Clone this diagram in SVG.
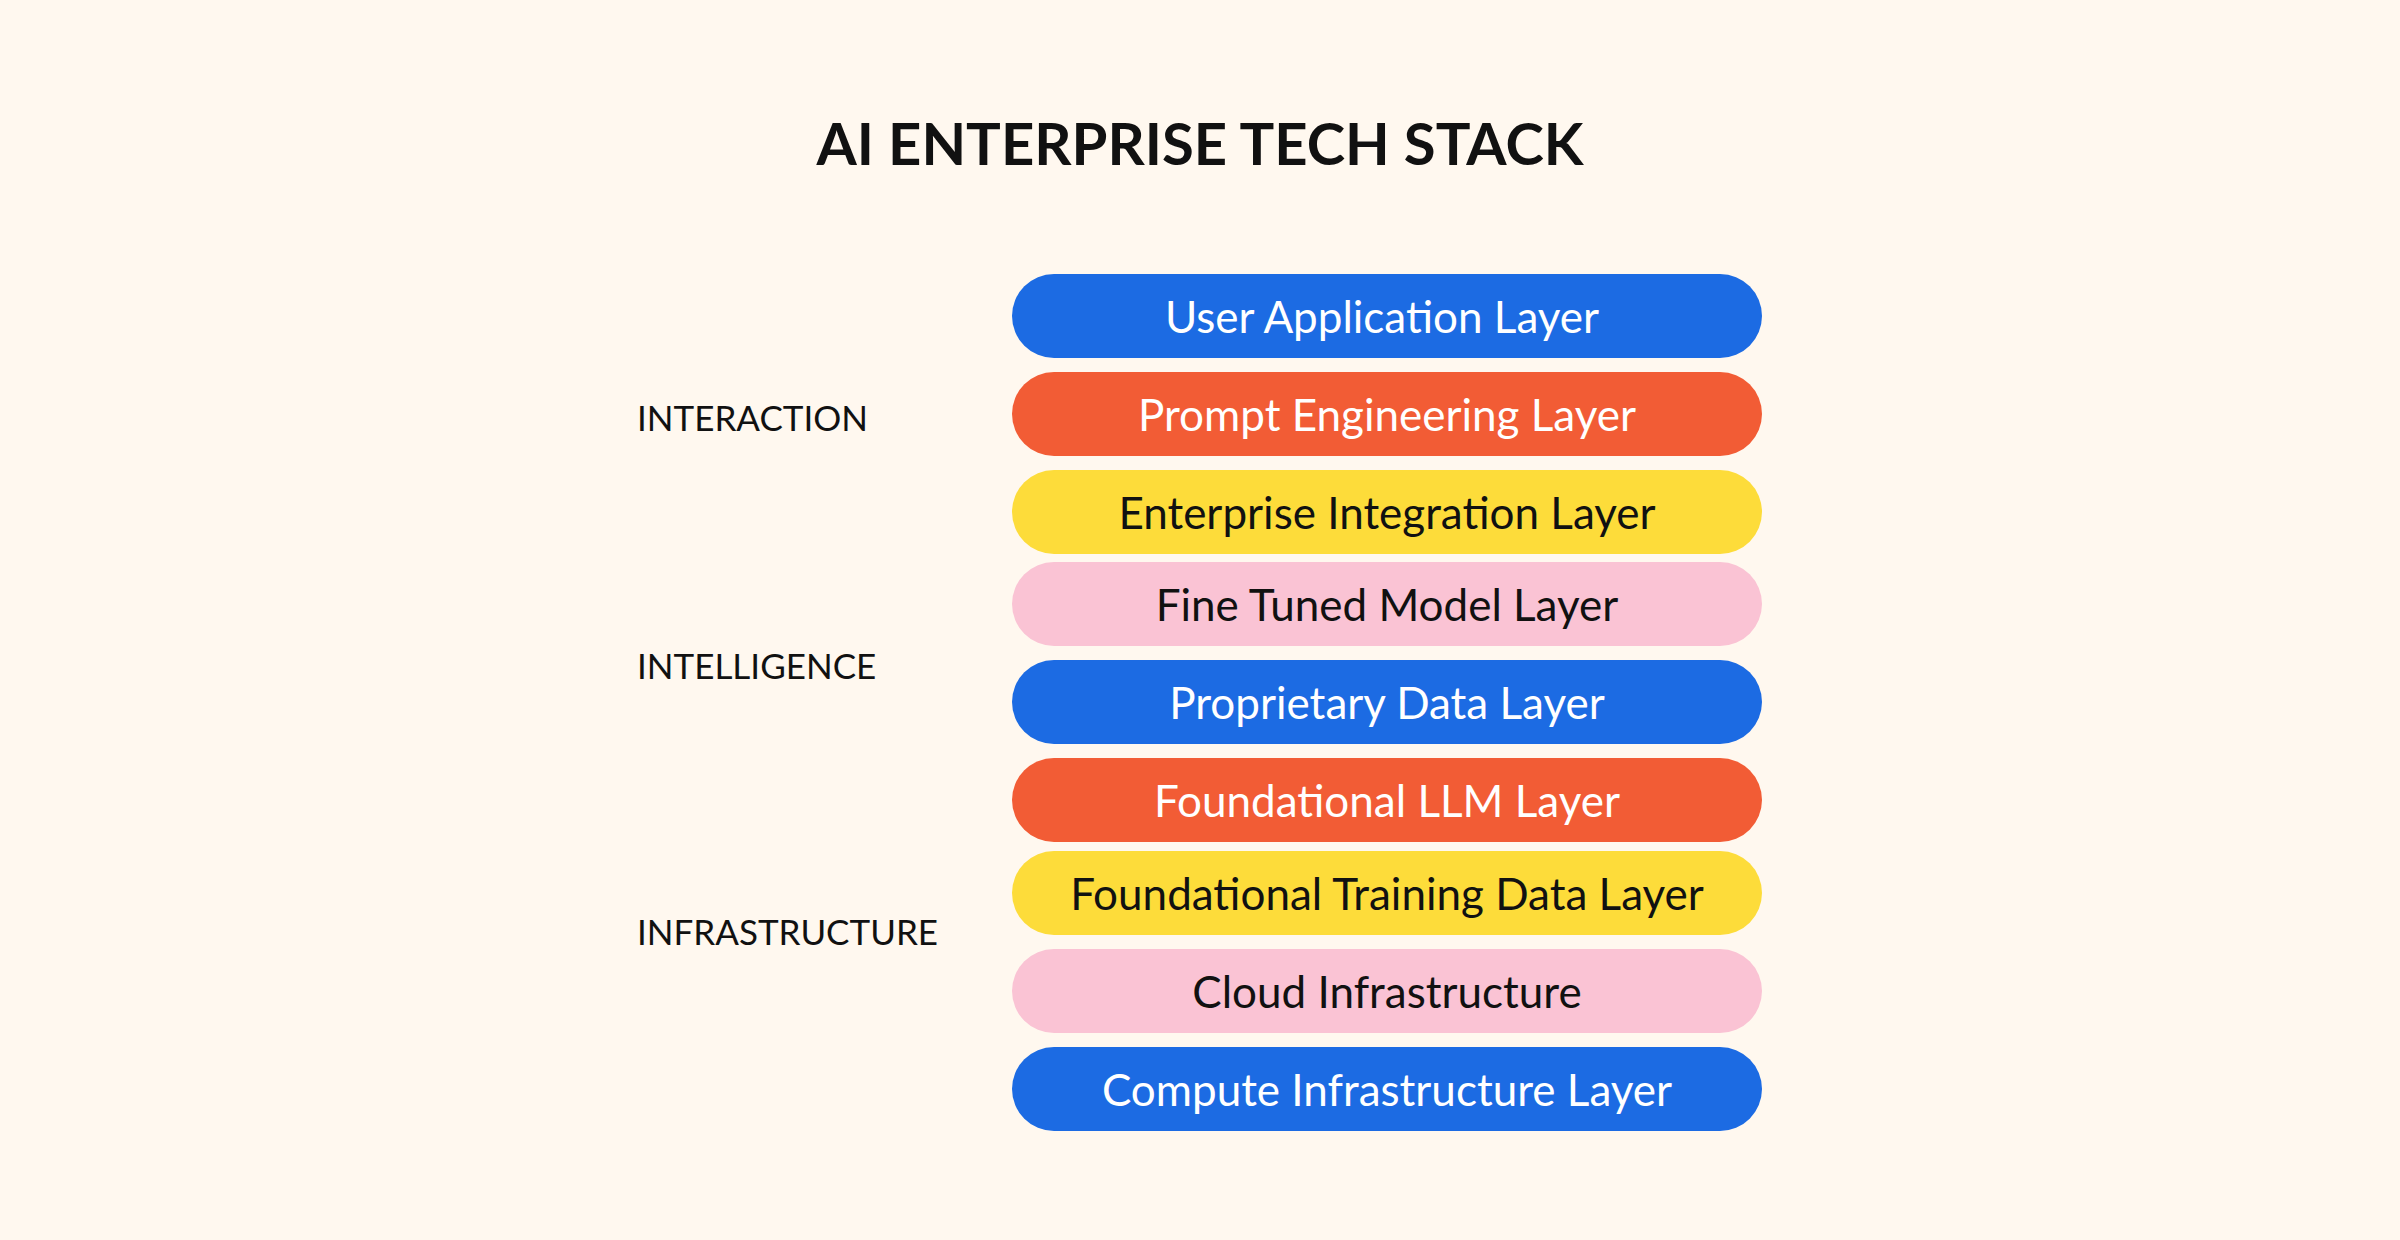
<svg xmlns="http://www.w3.org/2000/svg" width="2400" height="1240" viewBox="0 0 2400 1240">
<style>
.t{font-family:Lato,"Liberation Sans",sans-serif;font-size:44px;text-anchor:middle;dominant-baseline:central}
.w{fill:#fff}.k{fill:#111}
.l{font-family:Lato,"Liberation Sans",sans-serif;font-size:35px;fill:#111;dominant-baseline:central}
.b{fill:#1C6BE3}.o{fill:#F25C35}.y{fill:#FDDC3A}.p{fill:#FAC3D4}
</style>
<rect width="2400" height="1240" fill="#FFF8EF"/>
<text x="1200" y="142" font-family="Lato,'Liberation Sans',sans-serif" font-weight="bold" font-size="58" text-anchor="middle" dominant-baseline="central" fill="#111">AI ENTERPRISE TECH STACK</text>
<g id="labels">
<text class="l" x="637" y="417">INTERACTION</text>
<text class="l" x="637" y="665">INTELLIGENCE</text>
<text class="l" x="637" y="931">INFRASTRUCTURE</text>
</g>
<g id="n1"><rect class="b" x="1012" y="274" width="750" height="84" rx="42"/><text class="t w" x="1382" y="316">User Application Layer</text></g>
<g id="n2"><rect class="o" x="1012" y="372" width="750" height="84" rx="42"/><text class="t w" x="1387" y="414">Prompt Engineering Layer</text></g>
<g id="n3"><rect class="y" x="1012" y="470" width="750" height="84" rx="42"/><text class="t k" x="1387" y="512">Enterprise Integration Layer</text></g>
<g id="n4"><rect class="p" x="1012" y="562" width="750" height="84" rx="42"/><text class="t k" x="1387" y="604">Fine Tuned Model Layer</text></g>
<g id="n5"><rect class="b" x="1012" y="660" width="750" height="84" rx="42"/><text class="t w" x="1387" y="702">Proprietary Data Layer</text></g>
<g id="n6"><rect class="o" x="1012" y="758" width="750" height="84" rx="42"/><text class="t w" x="1387" y="800">Foundational LLM Layer</text></g>
<g id="n7"><rect class="y" x="1012" y="851" width="750" height="84" rx="42"/><text class="t k" x="1387" y="893">Foundational Training Data Layer</text></g>
<g id="n8"><rect class="p" x="1012" y="949" width="750" height="84" rx="42"/><text class="t k" x="1387" y="991">Cloud Infrastructure</text></g>
<g id="n9"><rect class="b" x="1012" y="1047" width="750" height="84" rx="42"/><text class="t w" x="1387" y="1089">Compute Infrastructure Layer</text></g>
<g id="connectors"/>
</svg>
